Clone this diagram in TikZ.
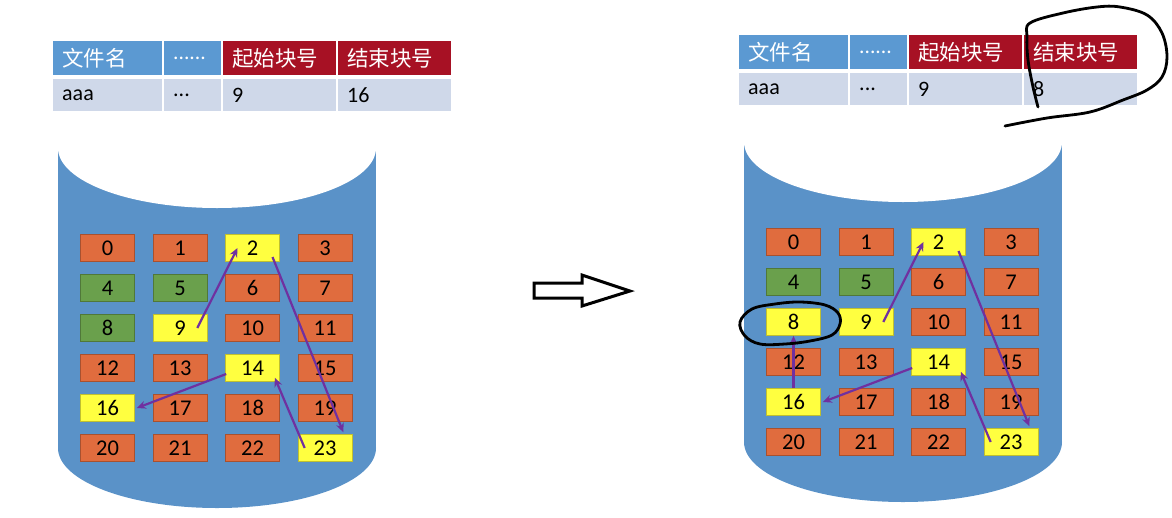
\documentclass[tikz,border=0pt]{standalone}
\usepackage{fontspec}
\setmainfont{Carlito}
\newfontfamily\cjk{Noto Sans CJK SC}
\usepackage{tikz}
\usetikzlibrary{arrows.meta}
\usepackage{xcolor}
\definecolor{hdblue}{RGB}{91,153,210}
\definecolor{hdred}{RGB}{167,17,36}
\definecolor{rowgray}{RGB}{207,216,233}
\definecolor{cylblue}{RGB}{90,146,200}
\definecolor{blkorange}{RGB}{224,108,62}
\definecolor{blkgreen}{RGB}{106,160,76}
\definecolor{blkyellow}{RGB}{255,255,64}
\definecolor{linkpurple}{RGB}{112,48,160}

\begin{document}
\begin{tikzpicture}[x=1pt, y=-1pt]

        % Styles for table cells, disk blocks and links
        \tikzset{
            cell/.style={anchor=north west, text width=#1, inner xsep=9pt, inner ysep=0pt, align=left},
            headcell/.style={cell=#1, minimum height=34pt, text=white, font=\cjk\fontsize{21.5}{24}\selectfont},
            datacell/.style={cell=#1, minimum height=32pt, fill=rowgray, font=\fontsize{22}{26}\selectfont},
            block/.style={fill=#1, draw=#1!75!black, line width=0.6pt, minimum width=54pt, minimum height=27pt, inner sep=0pt, font=\fontsize{22.5}{26}\selectfont},
            link/.style={draw=linkpurple, line width=2.2pt, -{Stealth[length=9pt, width=8pt]}},
            pen/.style={draw=black, line width=2.8pt, line cap=round, line join=round}
        }

        \useasboundingbox (0,0) rectangle (1172,517);

        % =================================================================
        % 1. BEFORE - Left disk, file ends at block 16
        % =================================================================

        \begin{scope}[shift={(0,0)}]

            % Disk body (white top face, blue body)
            \fill[cylblue] (58,148) rectangle (376,448);
            \fill[cylblue] (217,448) ellipse [x radius=159, y radius=60];
            \fill[white] (217,148) ellipse [x radius=159, y radius=60];

            % Directory table
            \node[headcell=91pt, fill=hdblue] (hName) at (53,41) {文件名};
            \node[headcell=39pt, fill=hdblue] (hMore) at (164,41) {\rmfamily ......};
            \node[headcell=95pt, fill=hdred] (hStart) at (223,41) {起始块号};
            \node[headcell=95pt, fill=hdred] (hEnd) at (338,41) {结束块号};
            \node[datacell=91pt] (dName) at (53,79) {aaa};
            \node[datacell=39pt] (dMore) at (164,79) {...};
            \node[datacell=95pt] (dStart) at (223,79) {9};
            \node[datacell=95pt] (dEnd) at (338,79) {16};

            % Disk blocks
            \foreach \n/\c in {0/blkorange, 1/blkorange, 2/blkyellow, 3/blkorange,
                               4/blkgreen, 5/blkgreen, 6/blkorange, 7/blkorange,
                               8/blkgreen, 9/blkyellow, 10/blkorange, 11/blkorange,
                               12/blkorange, 13/blkorange, 14/blkyellow, 15/blkorange,
                               16/blkyellow, 17/blkorange, 18/blkorange, 19/blkorange,
                               20/blkorange, 21/blkorange, 22/blkorange, 23/blkyellow} {
                \pgfmathtruncatemacro{\col}{mod(\n,4)}
                \pgfmathtruncatemacro{\row}{div(\n,4)}
                \node[block=\c] (b\n) at (107.5+72.5*\col, 248+40*\row) {\n};
            }

            % Link chain 9 -> 2 -> 23 -> 14 -> 16
            \draw[link] ([xshift=-10pt]b9.east) -- ([xshift=-15pt]b2.center);
            \draw[link] ([xshift=20pt, yshift=-9pt]b2.center) -- ([xshift=-9pt, yshift=2pt]b23.north east);
            \draw[link] ([xshift=7pt]b23.west) -- ([xshift=-5pt, yshift=4pt]b14.south east);
            \draw[link] ([xshift=1pt, yshift=-6pt]b14.west) -- ([xshift=2pt]b16.east);

        \end{scope}

        % =================================================================
        % 2. Block arrow in the middle
        % =================================================================

        \draw[black, line width=3pt, line join=miter] (534,283) -- (582,283) -- (582,275) -- (630,291)
            -- (582,306) -- (582,298) -- (534,298) -- cycle;

        % =================================================================
        % 3. AFTER - Right disk, block 8 appended
        % =================================================================

        \begin{scope}[shift={(686,-6)}]

            % Disk body (white top face, blue body)
            \fill[cylblue] (58,148) rectangle (376,448);
            \fill[cylblue] (217,448) ellipse [x radius=159, y radius=60];
            \fill[white] (217,148) ellipse [x radius=159, y radius=60];

            % Directory table
            \node[headcell=91pt, fill=hdblue] (hName) at (53,41) {文件名};
            \node[headcell=39pt, fill=hdblue] (hMore) at (164,41) {\rmfamily ......};
            \node[headcell=95pt, fill=hdred] (hStart) at (223,41) {起始块号};
            \node[headcell=95pt, fill=hdred] (hEnd) at (338,41) {结束块号};
            \node[datacell=91pt] (dName) at (53,79) {aaa};
            \node[datacell=39pt] (dMore) at (164,79) {...};
            \node[datacell=95pt] (dStart) at (223,79) {9};
            \node[datacell=95pt] (dEnd) at (338,79) {8};

            % Disk blocks
            \foreach \n/\c in {0/blkorange, 1/blkorange, 2/blkyellow, 3/blkorange,
                               4/blkgreen, 5/blkgreen, 6/blkorange, 7/blkorange,
                               8/blkyellow, 9/blkyellow, 10/blkorange, 11/blkorange,
                               12/blkorange, 13/blkorange, 14/blkyellow, 15/blkorange,
                               16/blkyellow, 17/blkorange, 18/blkorange, 19/blkorange,
                               20/blkorange, 21/blkorange, 22/blkorange, 23/blkyellow} {
                \pgfmathtruncatemacro{\col}{mod(\n,4)}
                \pgfmathtruncatemacro{\row}{div(\n,4)}
                \node[block=\c] (b\n) at (107.5+72.5*\col, 248+40*\row) {\n};
            }

            % Link chain 9 -> 2 -> 23 -> 14 -> 16 -> 8
            \draw[link] ([xshift=-10pt]b9.east) -- ([xshift=-15pt]b2.center);
            \draw[link] ([xshift=20pt, yshift=-9pt]b2.center) -- ([xshift=-9pt, yshift=2pt]b23.north east);
            \draw[link] ([xshift=7pt]b23.west) -- ([xshift=-5pt, yshift=4pt]b14.south east);
            \draw[link] ([xshift=1pt, yshift=-6pt]b14.west) -- ([xshift=2pt]b16.east);
            \draw[link] (b16.north) -- (b8.south);

        \end{scope}

        % Hand-drawn marks round block 8 and the end column
        \draw[pen] plot[smooth cycle, tension=0.6] coordinates {(740,322) (752,309) (775,304) (800,302) (825,305) (838,313)
            (840,324) (832,335) (810,341) (785,344) (760,344) (745,336)};
        \draw[pen] plot[smooth, tension=0.6] coordinates {(1038,107) (1033,87) (1028,60) (1027,37) (1030,23) (1063,13) (1097,7)
            (1120,7) (1147,15) (1162,33) (1167,57) (1162,77) (1147,90) (1123,100) (1090,112) (1047,118) (1005,126)};

    \end{tikzpicture}
\end{document}
